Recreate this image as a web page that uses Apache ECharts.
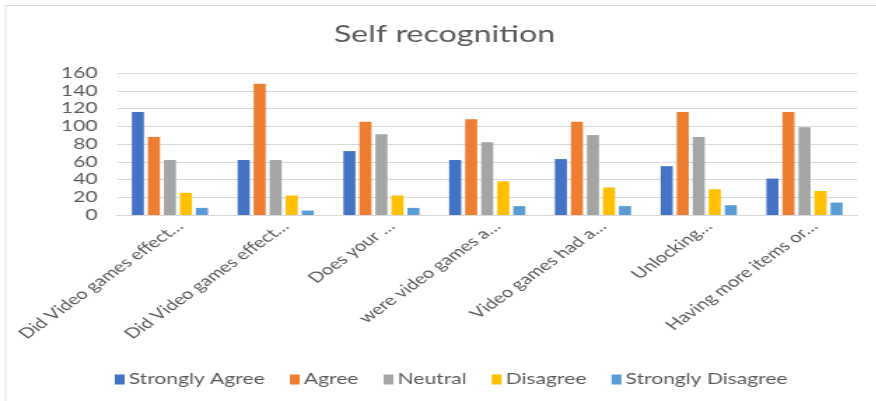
<!DOCTYPE html>
<html>
<head>
<meta charset="utf-8">
<script src="https://cdn.jsdelivr.net/npm/echarts@6/dist/echarts.min.js"></script>
<style>
  html, body { margin: 0; padding: 0; background: #fff; }
  #wrap { width: 876px; height: 401px; overflow: hidden; position: relative; }
  /* the chart is laid out on a narrower canvas and widened to the page width */
  #chart { width: 626px; height: 401px; transform: scaleX(1.4); transform-origin: 0 0; }
</style>
</head>
<body>
<div id="wrap"><div id="chart"></div></div>
<script>
const categories = [
  'Did Video games effect…',
  'Did Video games effect…',
  'Does your …',
  'were video games a…',
  'Video games had a…',
  'Unlocking…',
  'Having more items or…'
];
const seriesNames = ['Strongly Agree', 'Agree', 'Neutral', 'Disagree', 'Strongly Disagree'];
const stronglyAgree    = [116, 62, 72, 62, 63, 55, 41];
const agree            = [88, 148, 105, 108, 105, 116, 116];
const neutral          = [62, 62, 91, 82, 90, 88, 99];
const disagree         = [25, 22, 22, 38, 31, 29, 27];
const stronglyDisagree = [8, 5, 8, 10, 10, 11, 14];
const yTicks = [0, 20, 40, 60, 80, 100, 120, 140, 160];

const colors = ['#4472C4', '#ED7D31', '#A5A5A5', '#FFC000', '#5B9BD5'];
const values = [stronglyAgree, agree, neutral, disagree, stronglyDisagree];
const font = 'Lato, "Open Sans", sans-serif';
const textColor = '#595959';
const gridColor = '#D9D9D9';

const chart = echarts.init(document.getElementById('chart'));
chart.setOption({
  animation: false,
  color: colors,
  title: {
    text: 'Self recognition',
    left: 312.5,
    textAlign: 'center',
    top: 18,
    textStyle: { fontFamily: font, fontSize: 23, fontWeight: 'normal', color: textColor }
  },
  graphic: [
    { type: 'line', shape: { x1: 3.9, y1: 5.5, x2: 3.9, y2: 401 }, style: { stroke: gridColor, lineWidth: 0.72 } },
    { type: 'line', shape: { x1: 3.9, y1: 5.5, x2: 626, y2: 5.5 }, style: { stroke: gridColor, lineWidth: 1 } }
  ],
  legend: {
    top: 367,
    left: 77,
    itemWidth: 7,
    itemHeight: 10,
    itemGap: 18,
    icon: 'rect',
    textStyle: { fontFamily: font, fontSize: 15, color: textColor, padding: [0, 0, 0, -2] },
    data: seriesNames
  },
  grid: { left: 83.6, right: 13.6, top: 73, bottom: 186 },
  xAxis: {
    type: 'category',
    data: categories,
    axisTick: { show: false },
    axisLine: { lineStyle: { color: gridColor } },
    axisLabel: {
      interval: 0,
      rotate: 45,
      margin: 16,
      padding: [0, -10, 0, 0],
      fontFamily: font,
      fontSize: 14.5,
      color: textColor
    }
  },
  yAxis: {
    type: 'value',
    min: yTicks[0],
    max: yTicks[yTicks.length - 1],
    interval: 20,
    axisLine: { show: false },
    axisTick: { show: false },
    splitLine: { lineStyle: { color: gridColor } },
    axisLabel: { fontFamily: font, fontSize: 15, color: textColor, margin: 14 }
  },
  series: seriesNames.map((name, i) => ({
    name,
    type: 'bar',
    data: values[i],
    barGap: '33%',
    barCategoryGap: '28%',
    itemStyle: { color: colors[i] }
  }))
});
</script>
</body>
</html>
